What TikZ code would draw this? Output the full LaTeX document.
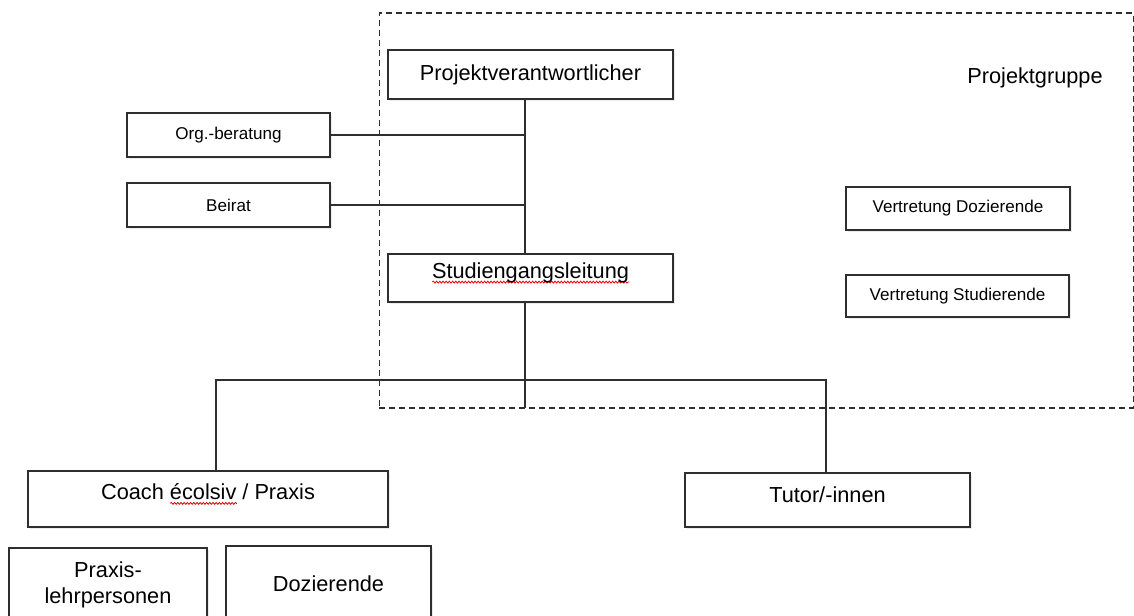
\documentclass[tikz,border=0pt]{standalone}
\usepackage{fontspec}
\setmainfont{Liberation Sans}
\usetikzlibrary{shadows,decorations.pathmorphing}
\tikzset{
  spellwave/.style={draw=red!90!black, line width=0.6pt, decorate,
    decoration={snake, amplitude=0.7pt, segment length=2.4pt}},
}
\newsavebox\wordbox
\newcommand\spellerr[1]{\sbox\wordbox{#1}\rlap{\smash{\tikz[baseline=0pt]\draw[spellwave] (0pt,-2.6pt) -- (\wd\wordbox,-2.6pt);}}\usebox\wordbox}
\definecolor{linegray}{HTML}{2E2E2E}

\begin{document}
\begin{tikzpicture}[x=0.75pt,y=-0.75pt,
  box/.style={draw=linegray, line width=0.8pt, fill=white, inner sep=0pt,
    drop shadow={opacity=0.16, shadow xshift=1.2pt, shadow yshift=-1.6pt}},
  big/.style={font=\fontsize{16.3}{19.5}\selectfont},
  small/.style={font=\fontsize{12.8}{15}\selectfont},
  link/.style={draw=linegray, line width=0.8pt},
  frame/.style={draw=linegray, line width=0.9pt, dash pattern=on 4.5pt off 3pt},
]
\useasboundingbox (0,0) rectangle (1134,615);

% dashed project group frame
\node[frame, minimum width=565.5pt, minimum height=296.25pt, inner sep=0pt] (group) at (756.25,210.5) {};
\node[big, inner sep=0pt] (grouplabel) at (1035,78) {Projektgruppe};

% boxes
\node[box, big, minimum width=213.75pt, minimum height=36.75pt] (pv) at (530.5,74.5) {Projektverantwortlicher};
\node[box, small, minimum width=152.25pt, minimum height=33pt] (org) at (228.5,135) {Org.-beratung};
\node[box, small, minimum width=152.25pt, minimum height=33pt] (beirat) at (228.5,205) {Beirat};
\node[box, minimum width=213.75pt, minimum height=36pt] (sl) at (530.5,278) {};
\node[big, inner sep=0pt] (sltext) at (530.5,273) {\spellerr{Studiengangsleitung}};
\node[box, small, minimum width=168pt, minimum height=32.25pt] (vd) at (958,208.5) {Vertretung Dozierende};
\node[box, small, minimum width=167.25pt, minimum height=31.5pt] (vs) at (957.5,296) {Vertretung Studierende};

\node[box, minimum width=270pt, minimum height=42pt] (coach) at (208,499) {};
\node[big, inner sep=0pt] (coachtext) at (208,492) {Coach \spellerr{écolsiv} / Praxis};
\node[box, minimum width=213.75pt, minimum height=40.5pt] (tutor) at (827.5,500) {};
\node[big, inner sep=0pt] (tutortext) at (827.5,495) {Tutor/-innen};

\node[box, big, align=center, minimum width=148.5pt, minimum height=55.5pt] (praxis) at (108,585) {Praxis-\\lehrpersonen};
\node[box, big, minimum width=153.75pt, minimum height=57pt] (doz) at (328.5,584) {Dozierende};

% connector coordinates
\coordinate (trunk) at (525,0);
\coordinate (trunkend) at (525,408);
\coordinate (hl) at (216,380);
\coordinate (hr) at (826,380);

% connectors
\draw[link] (pv.south -| trunk) -- (sl.north -| trunk);
\draw[link] (org.east) -- (org.east -| trunk);
\draw[link] (beirat.east) -- (beirat.east -| trunk);
\draw[link] (sl.south -| trunk) -- (trunkend);
\draw[link] (hl |- coach.north) -- (hl) -- (hr) -- (hr |- tutor.north);
\end{tikzpicture}
\end{document}
